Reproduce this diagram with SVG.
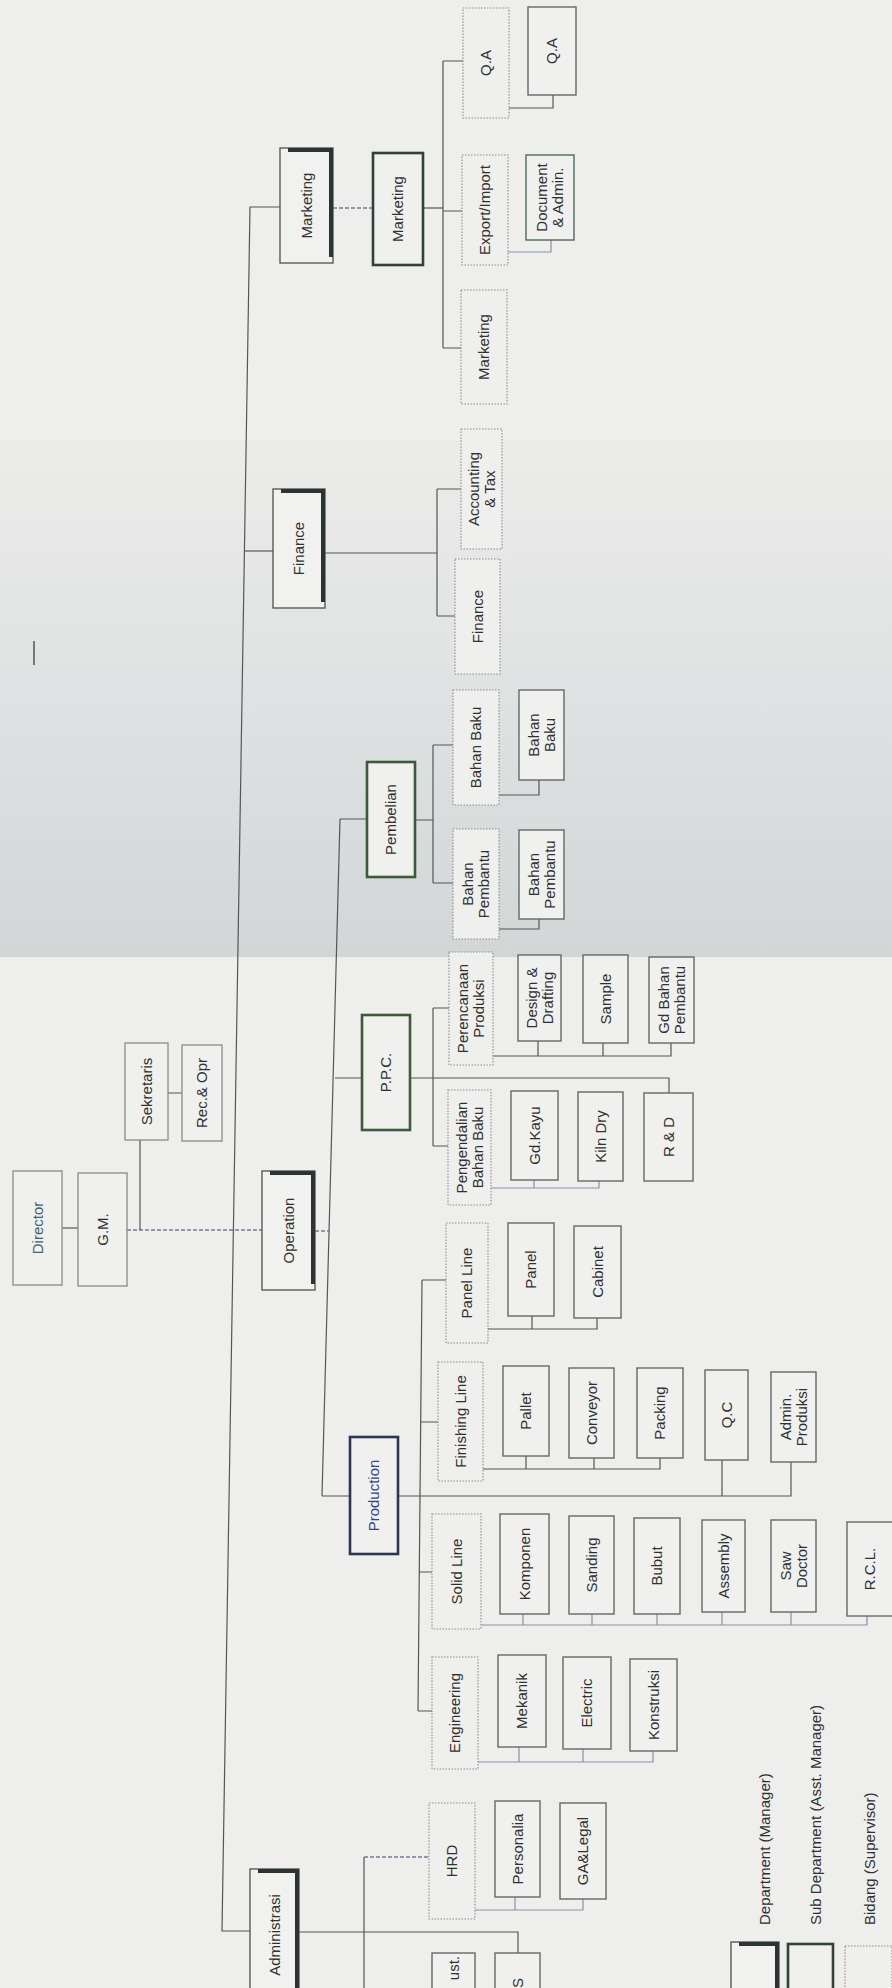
<svg xmlns="http://www.w3.org/2000/svg" width="892" height="1988" viewBox="0 0 892 1988">
<defs>
<linearGradient id="fold" x1="0" y1="0" x2="0" y2="1">
<stop offset="0" stop-color="#ececea"/>
<stop offset="0.5" stop-color="#dfe2e2"/>
<stop offset="1" stop-color="#d2d6d6"/>
</linearGradient>
<style>
text{font-family:"Liberation Sans",Arial,sans-serif;font-size:15px;fill:#2f3131;text-anchor:middle}
.dept{fill:#f1f1ef;stroke:#5a5a5a;stroke-width:1.4}
.deptbar{fill:none;stroke:#2b3431;stroke-width:4}
.sub{fill:#f0f0ee;stroke:#34403a;stroke-width:2.6}
.bid{fill:#efefed;stroke:#8c8c8c;stroke-width:1.1;stroke-dasharray:1.5 1.5}
.leaf{fill:#f0f0ee;stroke:#656767;stroke-width:1.4}
.top{fill:#f0f0ee;stroke:#8a8a8a;stroke-width:1.3}
.c{fill:none;stroke:#555;stroke-width:1.2}
.ct{fill:none;stroke:#8c8fa8;stroke-width:1.2}
.dash{fill:none;stroke:#7d7a95;stroke-width:1.3;stroke-dasharray:4 2}
</style>
</defs>
<rect x="0" y="0" width="892" height="1988" fill="#eeeeec"/>
<rect x="0" y="440" width="892" height="517" fill="url(#fold)"/>
<line x1="34" y1="641" x2="34" y2="665" stroke="#555" stroke-width="1.5"/>

<g id="connectors">
<path class="c" d="M280,207 H250 L222,1931 H250"/>
<path class="dash" d="M333,208 H373"/>
<path class="c" d="M423,208 H443"/>
<path class="c" d="M443,61 V348 M443,61 H463 M443,211 H462 M443,348 H461"/>
<path class="c" d="M509,108 H553 V95"/>
<path class="ct" d="M508,252 H551 V240"/>
<path class="c" d="M245,551 H273" stroke="#7a9ab8"/>
<path class="c" d="M325,553 H437 M437,489 V616 M437,489 H461 M437,616 H455"/>
<path class="c" d="M340,819 L322,1496 M340,819 H367 M335,1078 H362 M322,1496 H350"/>
<path class="dash" d="M315,1231 H330"/>
<path class="c" d="M415,820 H433 M433,745 V883 M433,745 H453 M433,883 H453"/>
<path class="c" d="M499,795 H539 V780 M499,929 H539 V919"/>
<path class="c" d="M410,1078 H669 V1093 M433,1008 V1146 M433,1008 H449 M433,1146 H448"/>
<path class="c" d="M493,1056 H671 V1043 M538,1056 V1041 M603,1056 V1043"/>
<path class="ct" d="M491,1188 H599 V1181 M534,1188 V1180"/>
<path class="c" d="M62,1228 H78"/>
<path class="dash" d="M127,1230 H262"/>
<path class="c" d="M140,1230 V1140 M168,1093 H182"/>
<path class="c" d="M398,1496 H791 V1462 M722,1496 V1460"/>
<path class="c" d="M422,1280 L418,1711 M422,1280 H446 M421,1422 H438 M419,1572 H432 M418,1711 H432"/>
<path class="c" d="M488,1329 H597 V1318 M532,1329 V1316"/>
<path class="c" d="M483,1469 H660 V1458 M526,1469 V1456 M594,1469 V1458"/>
<path class="ct" d="M481,1625 H867 V1616 M523,1625 V1614 M592,1625 V1614 M657,1625 V1614 M722,1625 V1612 M791,1625 V1612"/>
<path class="ct" d="M478,1762 H653 V1751 M519,1762 V1747 M583,1762 V1749"/>
<path class="c" d="M299,1932 H518 V1953 M364,1857 V1988"/>
<path class="dash" d="M364,1857 H429"/>
<path class="ct" d="M475,1910 H583 V1899 M515,1910 V1897"/>
</g>

<g id="n-director"><rect class="top" x="13" y="1171" width="49" height="114"/><text transform="translate(37.5,1228) rotate(-90)" dy="5" style="fill:#3d6470">Director</text></g>
<g id="n-gm"><rect class="top" x="78" y="1173" width="49" height="113"/><text transform="translate(102.5,1229.5) rotate(-90)" dy="5">G.M.</text></g>
<g id="n-sekretaris"><rect class="top" x="125" y="1043" width="43" height="97"/><text transform="translate(146.5,1091.5) rotate(-90)" dy="5">Sekretaris</text></g>
<g id="n-recopr"><rect class="top" x="182" y="1045" width="40" height="96"/><text transform="translate(202,1093) rotate(-90)" dy="5">Rec.&amp; Opr</text></g>

<g id="n-marketing-dept"><rect class="dept" x="280" y="148" width="53" height="115"/><path class="deptbar" d="M288,150 H331 V257"/><text transform="translate(306.5,205.5) rotate(-90)" dy="5">Marketing</text></g>
<g id="n-finance-dept"><rect class="dept" x="273" y="489" width="52" height="119"/><path class="deptbar" d="M281,491 H323 V602"/><text transform="translate(299,548.5) rotate(-90)" dy="5">Finance</text></g>
<g id="n-operation"><rect class="dept" x="262" y="1171" width="53" height="119"/><path class="deptbar" d="M270,1173 H313 V1284"/><text transform="translate(288.5,1230.5) rotate(-90)" dy="5">Operation</text></g>
<g id="n-administrasi"><rect class="dept" x="250" y="1869" width="49" height="140"/><path class="deptbar" d="M258,1871 H297 V1990"/><text transform="translate(274.5,1935) rotate(-90)" dy="5">Administrasi</text></g>

<g id="n-marketing-sub"><rect class="sub" x="373" y="153" width="50" height="112"/><text transform="translate(398,209) rotate(-90)" dy="5">Marketing</text></g>
<g id="n-pembelian"><rect class="sub" x="367" y="762" width="48" height="115" style="stroke:#3b5a3a"/><text transform="translate(391,819.5) rotate(-90)" dy="5">Pembelian</text></g>
<g id="n-ppc"><rect class="sub" x="362" y="1015" width="48" height="115" style="stroke:#3b5a3a"/><text transform="translate(386,1072.5) rotate(-90)" dy="5">P.P.C.</text></g>
<g id="n-production"><rect class="sub" x="350" y="1437" width="48" height="117" style="stroke:#2e3550"/><text transform="translate(374,1495.5) rotate(-90)" dy="5" style="fill:#34458a">Production</text></g>

<g id="n-qa1"><rect class="bid" x="463" y="8" width="46" height="110"/><text transform="translate(486,63) rotate(-90)" dy="5">Q.A</text></g>
<g id="n-expimp"><rect class="bid" x="462" y="155" width="46" height="110"/><text transform="translate(485,210) rotate(-90)" dy="5">Export/Import</text></g>
<g id="n-marketing-bid"><rect class="bid" x="461" y="290" width="46" height="114"/><text transform="translate(484,347) rotate(-90)" dy="5">Marketing</text></g>
<g id="n-accounting"><rect class="bid" x="461" y="429" width="41" height="120"/><text transform="translate(481.5,489) rotate(-90)"><tspan x="0" y="-3">Accounting</tspan><tspan x="0" y="13">&amp; Tax</tspan></text></g>
<g id="n-finance-bid"><rect class="bid" x="455" y="559" width="45" height="115"/><text transform="translate(477.5,616.5) rotate(-90)" dy="5">Finance</text></g>
<g id="n-bahanbaku-bid"><rect class="bid" x="453" y="690" width="46" height="115"/><text transform="translate(476,747.5) rotate(-90)" dy="5">Bahan Baku</text></g>
<g id="n-bahanpembantu-bid"><rect class="bid" x="453" y="829" width="46" height="110"/><text transform="translate(476,884) rotate(-90)"><tspan x="0" y="-3">Bahan</tspan><tspan x="0" y="13">Pembantu</tspan></text></g>
<g id="n-perencanaan"><rect class="bid" x="449" y="952" width="44" height="113"/><text transform="translate(471,1008.5) rotate(-90)"><tspan x="0" y="-3">Perencanaan</tspan><tspan x="0" y="13">Produksi</tspan></text></g>
<g id="n-pengendalian"><rect class="bid" x="448" y="1090" width="43" height="115"/><text transform="translate(469.5,1147.5) rotate(-90)"><tspan x="0" y="-3">Pengendalian</tspan><tspan x="0" y="13">Bahan Baku</tspan></text></g>
<g id="n-panelline"><rect class="bid" x="446" y="1223" width="42" height="120"/><text transform="translate(467,1283) rotate(-90)" dy="5">Panel Line</text></g>
<g id="n-finishing"><rect class="bid" x="438" y="1362" width="45" height="119"/><text transform="translate(460.5,1421.5) rotate(-90)" dy="5">Finishing Line</text></g>
<g id="n-solidline"><rect class="bid" x="432" y="1514" width="49" height="115"/><text transform="translate(456.5,1571.5) rotate(-90)" dy="5">Solid Line</text></g>
<g id="n-engineering"><rect class="bid" x="432" y="1657" width="46" height="112"/><text transform="translate(455,1713) rotate(-90)" dy="5">Engineering</text></g>
<g id="n-hrd"><rect class="bid" x="429" y="1803" width="46" height="116"/><text transform="translate(452,1861) rotate(-90)" dy="5">HRD</text></g>
<g id="n-partial1"><rect class="leaf" x="432" y="1953" width="43" height="70"/><text transform="translate(453.5,1956) rotate(-90)" dy="5" style="text-anchor:end">ust.</text></g>

<g id="n-qa2"><rect class="leaf" x="528" y="7" width="48" height="88"/><text transform="translate(552,51) rotate(-90)" dy="5">Q.A</text></g>
<g id="n-docadmin"><rect class="leaf" x="526" y="155" width="48" height="85" style="stroke:#4d6a5a"/><text transform="translate(550,197.5) rotate(-90)"><tspan x="0" y="-3">Document</tspan><tspan x="0" y="13">&amp; Admin.</tspan></text></g>
<g id="n-bahanbaku"><rect class="leaf" x="519" y="690" width="45" height="90"/><text transform="translate(541.5,735) rotate(-90)"><tspan x="0" y="-3">Bahan</tspan><tspan x="0" y="13">Baku</tspan></text></g>
<g id="n-bahanpembantu"><rect class="leaf" x="519" y="830" width="45" height="89"/><text transform="translate(541.5,874.5) rotate(-90)"><tspan x="0" y="-3">Bahan</tspan><tspan x="0" y="13">Pembantu</tspan></text></g>
<g id="n-design"><rect class="leaf" x="518" y="955" width="43" height="86"/><text transform="translate(539.5,998) rotate(-90)"><tspan x="0" y="-3">Design &amp;</tspan><tspan x="0" y="13">Drafting</tspan></text></g>
<g id="n-sample"><rect class="leaf" x="583" y="955" width="45" height="88"/><text transform="translate(605.5,999) rotate(-90)" dy="5">Sample</text></g>
<g id="n-gdbahan"><rect class="leaf" x="649" y="957" width="45" height="86"/><text transform="translate(671.5,1000) rotate(-90)"><tspan x="0" y="-3">Gd Bahan</tspan><tspan x="0" y="13">Pembantu</tspan></text></g>
<g id="n-gdkayu"><rect class="leaf" x="511" y="1091" width="47" height="89"/><text transform="translate(534.5,1135.5) rotate(-90)" dy="5">Gd.Kayu</text></g>
<g id="n-kilndry"><rect class="leaf" x="578" y="1092" width="45" height="89"/><text transform="translate(600.5,1136.5) rotate(-90)" dy="5">Kiln Dry</text></g>
<g id="n-rnd"><rect class="leaf" x="644" y="1093" width="49" height="88"/><text transform="translate(668.5,1137) rotate(-90)" dy="5">R &amp; D</text></g>
<g id="n-panel"><rect class="leaf" x="508" y="1223" width="46" height="93"/><text transform="translate(531,1269.5) rotate(-90)" dy="5">Panel</text></g>
<g id="n-cabinet"><rect class="leaf" x="574" y="1226" width="47" height="92"/><text transform="translate(597.5,1272) rotate(-90)" dy="5">Cabinet</text></g>
<g id="n-pallet"><rect class="leaf" x="503" y="1366" width="46" height="90"/><text transform="translate(526,1411) rotate(-90)" dy="5">Pallet</text></g>
<g id="n-conveyor"><rect class="leaf" x="569" y="1368" width="45" height="90"/><text transform="translate(591.5,1413) rotate(-90)" dy="5">Conveyor</text></g>
<g id="n-packing"><rect class="leaf" x="637" y="1368" width="46" height="90"/><text transform="translate(660,1413) rotate(-90)" dy="5">Packing</text></g>
<g id="n-qc"><rect class="leaf" x="705" y="1370" width="43" height="90"/><text transform="translate(726.5,1415) rotate(-90)" dy="5">Q.C</text></g>
<g id="n-adminprod"><rect class="leaf" x="771" y="1372" width="45" height="90"/><text transform="translate(793.5,1417) rotate(-90)"><tspan x="0" y="-3">Admin.</tspan><tspan x="0" y="13">Produksi</tspan></text></g>
<g id="n-komponen"><rect class="leaf" x="500" y="1514" width="49" height="100"/><text transform="translate(524.5,1564) rotate(-90)" dy="5">Komponen</text></g>
<g id="n-sanding"><rect class="leaf" x="569" y="1516" width="45" height="98"/><text transform="translate(591.5,1565) rotate(-90)" dy="5">Sanding</text></g>
<g id="n-bubut"><rect class="leaf" x="634" y="1518" width="46" height="96"/><text transform="translate(657,1566) rotate(-90)" dy="5">Bubut</text></g>
<g id="n-assembly"><rect class="leaf" x="702" y="1520" width="43" height="92"/><text transform="translate(723.5,1566) rotate(-90)" dy="5">Assembly</text></g>
<g id="n-sawdoctor"><rect class="leaf" x="771" y="1520" width="45" height="92"/><text transform="translate(793.5,1566) rotate(-90)"><tspan x="0" y="-3">Saw</tspan><tspan x="0" y="13">Doctor</tspan></text></g>
<g id="n-rcl"><rect class="leaf" x="847" y="1522" width="46" height="94"/><text transform="translate(869.5,1569) rotate(-90)" dy="5">R.C.L.</text></g>
<g id="n-mekanik"><rect class="leaf" x="498" y="1655" width="48" height="92"/><text transform="translate(522,1701) rotate(-90)" dy="5">Mekanik</text></g>
<g id="n-electric"><rect class="leaf" x="563" y="1657" width="48" height="92"/><text transform="translate(587,1703) rotate(-90)" dy="5">Electric</text></g>
<g id="n-konstruksi"><rect class="leaf" x="630" y="1659" width="47" height="92"/><text transform="translate(653.5,1705) rotate(-90)" dy="5">Konstruksi</text></g>
<g id="n-personalia"><rect class="leaf" x="495" y="1801" width="45" height="96"/><text transform="translate(517.5,1849) rotate(-90)" dy="5">Personalia</text></g>
<g id="n-galegal"><rect class="leaf" x="560" y="1803" width="46" height="96"/><text transform="translate(583,1851) rotate(-90)" dy="5">GA&amp;Legal</text></g>
<g id="n-partial2"><rect class="leaf" x="495" y="1953" width="45" height="70"/><text transform="translate(517.5,1978) rotate(-90)" dy="5" style="text-anchor:end">S</text></g>

<g id="legend">
<rect class="dept" x="731" y="1942" width="48" height="60"/><path class="deptbar" d="M739,1944 H777 V1990"/>
<rect class="sub" x="788" y="1944" width="45" height="58"/>
<rect class="bid" x="845" y="1946" width="47" height="56"/>
<text transform="translate(765,1925) rotate(-90)" dy="5" style="text-anchor:start">Department (Manager)</text>
<text transform="translate(816,1925) rotate(-90)" dy="5" style="text-anchor:start">Sub Department (Asst. Manager)</text>
<text transform="translate(870,1925) rotate(-90)" dy="5" style="text-anchor:start">Bidang (Supervisor)</text>
</g>
</svg>
